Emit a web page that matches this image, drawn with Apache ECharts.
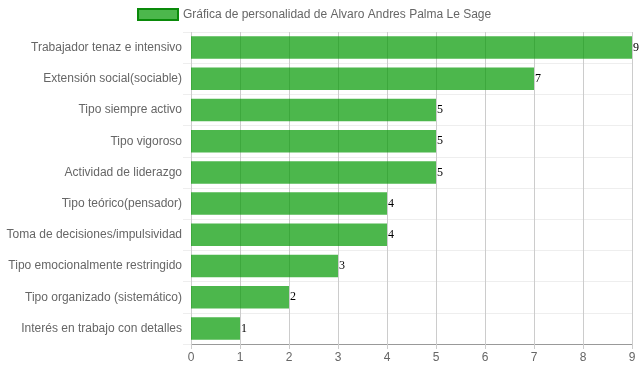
<!DOCTYPE html>
<html>
<head>
<meta charset="utf-8">
<script src="https://cdn.jsdelivr.net/npm/echarts@6/dist/echarts.min.js"></script>
<style>html,body{margin:0;padding:0;background:#fff}#c{width:639px;height:372px}</style>
</head>
<body>
<div id="c"></div>
<script>
const categories = [
  "Trabajador tenaz e intensivo",
  "Extensión social(sociable)",
  "Tipo siempre activo",
  "Tipo vigoroso",
  "Actividad de liderazgo",
  "Tipo teórico(pensador)",
  "Toma de decisiones/impulsividad",
  "Tipo emocionalmente restringido",
  "Tipo organizado (sistemático)",
  "Interés en trabajo con detalles"
];
const values = [9, 7, 5, 5, 5, 4, 4, 3, 2, 1];
const seriesName = "Gráfica de personalidad de Alvaro Andres Palma Le Sage";

const chart = echarts.init(document.getElementById('c'), null, {renderer: 'canvas'});
chart.setOption({
  animation: false,
  textStyle: {fontFamily: 'Liberation Sans, Arial, sans-serif'},
  legend: {
    data: [{name: seriesName, icon: 'rect', itemStyle: {color: 'rgba(0,153,0,0.7)', borderColor: '#0a8a0a', borderWidth: 2}}],
    padding: 0,
    top: 8,
    left: 137,
    itemWidth: 40,
    itemHeight: 11,
    itemGap: 8,
    textStyle: {color: '#666', fontSize: 12, fontFamily: 'Liberation Sans, Arial, sans-serif'}
  },
  grid: {left: 191, right: 7, top: 32, bottom: 28, containLabel: false},
  xAxis: {
    type: 'value',
    min: 0, max: 9, interval: 1,
    axisLine: {show: true, lineStyle: {color: '#999', width: 1}},
    axisTick: {show: true, length: 5, lineStyle: {color: '#ccc'}},
    axisLabel: {color: '#666', fontSize: 12, margin: 8},
    splitLine: {show: true, lineStyle: {color: '#ccc', width: 1}}
  },
  yAxis: {
    type: 'category',
    inverse: true,
    data: categories,
    axisLine: {show: false},
    axisTick: {show: true, length: 8, lineStyle: {color: '#eee'}},
    axisLabel: {color: '#666', fontSize: 12, margin: 9},
    splitLine: {show: true, lineStyle: {color: '#eee', width: 1}}
  },
  series: [{
    name: seriesName,
    type: 'bar',
    data: values,
    barWidth: '72%',
    itemStyle: {color: 'rgba(0,153,0,0.7)'},
    label: {
      show: true,
      position: 'right',
      distance: 1,
      color: '#000',
      fontSize: 12,
      fontFamily: 'Liberation Serif, Times New Roman, serif'
    }
  }]
});
</script>
</body>
</html>
